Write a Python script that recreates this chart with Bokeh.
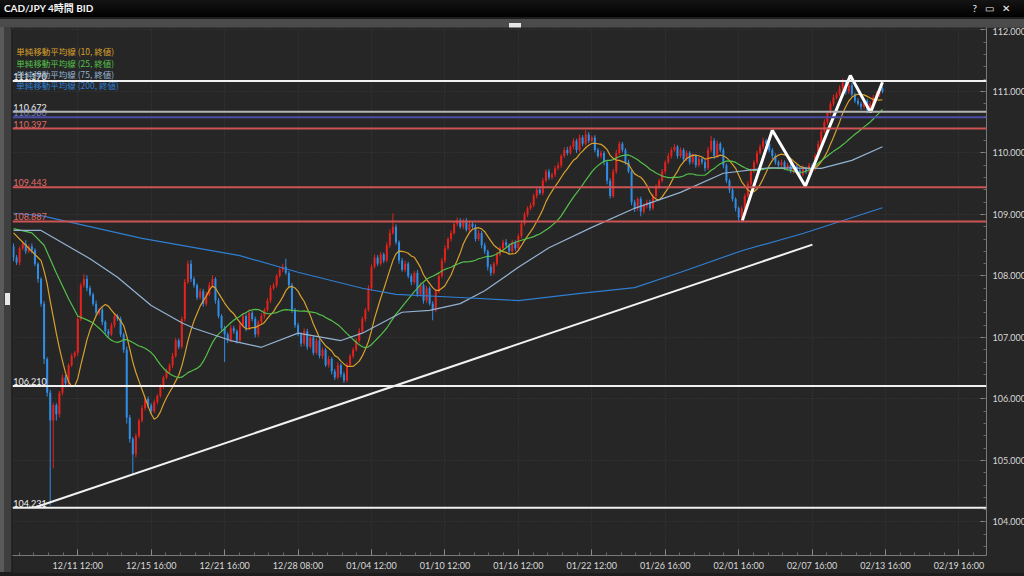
import numpy as np
import pandas as pd
from bokeh.plotting import figure
from bokeh.layouts import column, row
from bokeh.models import (Div, Span, FixedTicker, SingleIntervalTicker,
                          PrintfTickFormatter, GlobalInlineStyleSheet)
from bokeh.core.properties import value
from bokeh.embed import file_html
from bokeh.resources import INLINE

# ---------------- data ----------------
title_text = "CAD/JPY 4時間 BID"
first_open = 108.48

close = [
    108.30, 108.22, 108.45, 108.52, 108.40, 108.48, 108.42, 108.20, 107.95, 107.55,
    106.65, 106.10, 105.65, 105.90, 105.75, 106.10, 106.35, 106.25, 106.55, 106.70,
    106.75, 107.30, 107.85, 107.95, 107.80, 107.70, 107.55, 107.40, 107.45, 107.25,
    107.10, 107.05, 107.20, 107.35, 107.30, 107.05, 106.80, 105.70, 105.35, 105.10,
    105.40, 105.65, 105.85, 106.00, 105.90, 105.80, 105.95, 106.05, 106.20, 106.35,
    106.45, 106.55, 106.70, 106.95, 106.85, 107.30, 107.90, 108.20, 107.95, 107.85,
    107.65, 107.75, 107.55, 107.70, 107.85, 107.95, 107.60, 107.35, 107.15, 107.05,
    106.95, 107.15, 107.10, 106.95, 107.20, 107.35, 107.15, 107.40, 107.30, 107.05,
    107.25, 107.35, 107.45, 107.60, 107.80, 107.85, 108.00, 108.10, 108.15, 108.05,
    107.85, 107.45, 107.20, 107.05, 106.90, 107.10, 106.85, 107.00, 106.75, 106.95,
    106.70, 106.80, 106.55, 106.65, 106.45, 106.35, 106.55, 106.40, 106.30, 106.55,
    106.70, 106.80, 106.95, 107.10, 107.30, 107.45, 107.80, 108.15, 108.30, 108.20,
    108.35, 108.25, 108.50, 108.70, 108.80, 108.55, 108.25, 108.10, 108.20, 108.00,
    107.90, 108.05, 107.70, 107.85, 107.60, 107.80, 107.55, 107.45, 107.75, 108.00,
    108.25, 108.45, 108.60, 108.70, 108.85, 108.90, 108.80, 108.90, 108.75, 108.85,
    108.80, 108.60, 108.70, 108.50, 108.40, 108.15, 108.05, 108.20, 108.35, 108.45,
    108.55, 108.50, 108.40, 108.55, 108.45, 108.65, 108.85, 109.00, 109.10, 109.15,
    109.30, 109.40, 109.35, 109.55, 109.70, 109.60, 109.65, 109.75, 109.80, 109.95,
    110.05, 110.00, 110.10, 110.20, 110.05, 110.25, 110.15, 110.30, 110.20, 110.25,
    110.05, 109.95, 110.00, 109.85, 109.55, 109.30, 109.70, 110.00, 110.15, 110.05,
    109.85, 109.70, 109.20, 109.10, 109.25, 109.05, 109.15, 109.20, 109.10, 109.30,
    109.45, 109.55, 109.70, 109.85, 109.95, 110.05, 110.10, 109.95, 110.05, 109.90,
    110.00, 109.85, 109.95, 109.80, 109.90, 109.85, 109.75, 110.05, 110.20, 109.95,
    110.15, 110.05, 109.80, 109.55, 109.40, 109.25, 109.10, 108.95, 109.10, 109.30,
    109.50, 109.70, 109.85, 110.00, 110.10, 110.20, 110.15, 110.05, 109.95, 109.85,
    109.80, 109.85, 109.75, 109.80, 109.70, 109.78, 109.72, 109.65, 109.75, 109.70,
    109.80, 109.75, 109.95, 110.15, 110.35, 110.50, 110.65, 110.80, 110.90, 110.95,
    111.05, 111.15, 111.00, 111.10, 110.95, 110.85, 110.80, 110.75, 110.85, 110.70,
    110.80, 110.90, 110.95, 111.05, 111.00,
]

# wick lengths in 0.01 yen (above body / below body)
upper_wick = [
    5, 4, 3, 4, 6, 3, 5, 3, 2, 3,
    4, 3, 5, 4, 3, 3, 5, 4, 3, 4,
    3, 5, 4, 8, 6, 4, 3, 5, 3, 4,
    3, 4, 4, 5, 3, 4, 3, 5, 4, 3,
    4, 3, 5, 3, 4, 3, 4, 3, 4, 3,
    4, 3, 5, 4, 3, 4, 5, 5, 6, 4,
    3, 5, 4, 4, 5, 6, 3, 4, 3, 4,
    3, 5, 4, 3, 6, 5, 4, 6, 3, 4,
    3, 4, 3, 4, 5, 4, 3, 4, 5, 13,
    3, 4, 3, 4, 3, 5, 4, 5, 3, 4,
    3, 4, 3, 5, 3, 4, 5, 3, 4, 4,
    3, 4, 4, 5, 4, 3, 5, 4, 5, 4,
    4, 3, 5, 6, 22, 4, 3, 4, 5, 3,
    4, 3, 5, 4, 3, 4, 3, 4, 3, 4,
    4, 5, 3, 4, 4, 5, 4, 3, 4, 5,
    3, 4, 5, 3, 4, 3, 4, 3, 4, 3,
    4, 5, 3, 4, 3, 4, 5, 4, 3, 4,
    4, 3, 5, 4, 3, 4, 3, 4, 5, 3,
    4, 5, 3, 4, 3, 5, 4, 7, 4, 3,
    4, 3, 4, 3, 3, 4, 4, 5, 4, 3,
    3, 4, 3, 4, 3, 4, 3, 4, 4, 3,
    4, 3, 4, 3, 5, 4, 5, 3, 4, 3,
    4, 3, 4, 3, 4, 3, 4, 5, 8, 4,
    5, 3, 4, 3, 3, 4, 3, 3, 4, 4,
    4, 5, 3, 4, 4, 5, 3, 4, 3, 4,
    3, 4, 3, 4, 3, 4, 3, 4, 5, 3,
    4, 3, 4, 5, 4, 5, 3, 4, 5, 4,
    5, 6, 4, 5, 4, 3, 4, 3, 4, 3,
    4, 4, 5, 4, 3,
]
lower_wick = [
    6, 4, 5, 3, 4, 3, 5, 4, 6, 5,
    8, 6, 138, 78, 10, 5, 4, 6, 5, 3,
    4, 5, 3, 4, 5, 3, 4, 5, 4, 5,
    4, 5, 3, 4, 3, 4, 5, 10, 6, 32,
    5, 4, 3, 4, 5, 4, 3, 4, 3, 4,
    3, 4, 5, 3, 4, 3, 4, 3, 5, 4,
    4, 3, 5, 4, 3, 4, 5, 4, 5, 45,
    4, 3, 4, 5, 3, 4, 5, 3, 4, 5,
    4, 3, 4, 3, 4, 3, 4, 3, 4, 3,
    4, 5, 4, 3, 5, 4, 5, 3, 4, 3,
    4, 5, 3, 4, 5, 4, 3, 5, 4, 3,
    3, 4, 3, 4, 3, 4, 3, 4, 3, 4,
    3, 4, 3, 4, 3, 4, 5, 3, 4, 4,
    5, 3, 4, 3, 5, 4, 3, 17, 4, 3,
    3, 4, 3, 4, 3, 4, 3, 4, 3, 4,
    3, 4, 3, 5, 4, 6, 5, 3, 4, 3,
    4, 3, 4, 3, 4, 3, 4, 3, 4, 3,
    3, 4, 3, 4, 3, 4, 3, 4, 3, 4,
    3, 4, 3, 4, 5, 3, 4, 3, 4, 3,
    4, 3, 4, 5, 6, 4, 3, 4, 3, 4,
    4, 3, 5, 6, 4, 8, 4, 5, 4, 3,
    3, 4, 3, 4, 3, 4, 3, 4, 3, 4,
    3, 4, 3, 4, 3, 4, 5, 3, 4, 5,
    3, 4, 5, 4, 5, 4, 5, 7, 4, 3,
    3, 4, 3, 4, 3, 4, 3, 4, 5, 4,
    3, 4, 3, 4, 3, 4, 3, 4, 3, 4,
    4, 3, 4, 3, 4, 3, 4, 3, 4, 3,
    3, 4, 5, 4, 3, 4, 3, 5, 4, 6,
    3, 4, 3, 4, 3,
]

# moving averages: start of the 10/25 lines and the 75/200 lines (bar index, price)
ma10_head_idx = [0, 4, 8]
ma10_head = [108.70, 108.50, 108.30]
ma25_head_idx = [0, 6, 10, 14, 18, 21]
ma25_head = [108.77, 108.70, 108.50, 108.05, 107.63, 107.35]
ma75_idx = [0, 9, 25, 34, 45, 55, 59, 71, 81, 93, 107, 114, 127, 136, 146,
            154, 165, 175, 189, 203, 218, 232, 247, 264, 274, 284]
ma75 = [108.74, 108.74, 108.28, 107.98, 107.52, 107.24, 107.15, 106.95, 106.84,
        107.07, 106.95, 107.07, 107.41, 107.44, 107.55, 107.76, 108.14, 108.46,
        108.79, 109.10, 109.36, 109.67, 109.76, 109.75, 109.88, 110.10]
ma200_idx = [0, 9, 42, 74, 93, 114, 125, 146, 165, 186, 203, 218, 238, 258, 284]
ma200 = [109.02, 108.98, 108.61, 108.33, 108.06, 107.80, 107.70, 107.65, 107.60,
         107.72, 107.81, 108.06, 108.41, 108.69, 109.11]

legend_labels = ["単純移動平均線 (10, 終値)", "単純移動平均線 (25, 終値)",
                 "単純移動平均線 (75, 終値)", "単純移動平均線 (200, 終値)"]

level_values = [111.170, 110.672, 110.580, 110.397, 109.443, 108.887, 106.210, 104.231]
level_labels = ["111.170", "110.672", "110.580", "110.397", "109.443", "108.887", "106.210", "104.231"]

trend_x = [7.2, 261.1]
trend_y = [104.24, 108.51]
zigzag_x = [238.2, 248.0, 258.8, 273.5, 280.1, 284.0]
zigzag_y = [108.90, 110.37, 109.46, 111.26, 110.66, 111.15]

tick_idx = [21, 45, 69, 93, 117, 141, 165, 189, 213, 237, 261, 285, 309]
tick_labels = ["12/11 12:00", "12/15 16:00", "12/21 16:00", "12/28 08:00", "01/04 12:00",
               "01/10 12:00", "01/16 12:00", "01/22 12:00", "01/26 16:00", "02/01 16:00",
               "02/07 16:00", "02/13 16:00", "02/19 16:00"]

# ---------------- styles ----------------
BG = "#262626"
UP = "#e4221d"
DOWN = "#2f8de4"
MA_COLORS = ["#d9a02c", "#54c04a", "#93b3d2", "#2f7ed2"]
LEVEL_COLORS = ["#f0f0f0", "#b4b4b4", "#4c4ca6", "#cc5454", "#cc5454", "#cc5454", "#f0f0f0", "#f0f0f0"]
LEVEL_TEXT = ["#f0f0f0", "#f0f0f0", "#6f7fc0", "#e06a66", "#e06a66", "#e06a66", "#f0f0f0", "#f0f0f0"]
FONT = "Lato"
JP = "Noto Sans CJK JP"

# ---------------- derived ----------------
n = len(close)
idx = np.arange(n)
c = np.array(close)
o = np.concatenate([[first_open], c[:-1]])
hi = np.maximum(o, c) + np.array(upper_wick[:n]) / 100.0
lo = np.minimum(o, c) - np.array(lower_wick[:n]) / 100.0
up = c >= o

s = pd.Series(close)
r10 = s.rolling(10).mean()
r25 = s.rolling(25).mean()
ma10_x = ma10_head_idx + list(range(9, n))
ma10_y = ma10_head + list(r10.iloc[9:])
ma25_x = ma25_head_idx + list(range(24, n))
ma25_y = ma25_head + list(r25.iloc[24:])

p = figure(frame_width=974, frame_height=528,
           x_range=(-0.33, 318), y_range=(103.455, 112.04),
           y_axis_location="right", output_backend="svg", toolbar_location=None,
           background_fill_color=BG, border_fill_color=BG,
           min_border_left=0, min_border_top=0, min_border_right=38, min_border_bottom=17,
           title=None, margin=0)
p.outline_line_color = None

# axes
minor = [t + k * 4.8 for t in [-3.0] + tick_idx for k in range(1, 5)]
p.xaxis.ticker = FixedTicker(ticks=tick_idx, minor_ticks=minor)
p.xaxis.major_label_overrides = {t: l for t, l in zip(tick_idx, tick_labels)}
p.yaxis.ticker = SingleIntervalTicker(interval=1, num_minor_ticks=5)
p.yaxis.formatter = PrintfTickFormatter(format="%.3f")
for ax in (p.xaxis[0], p.yaxis[0]):
    ax.axis_line_color = "#7a7a7a"
    ax.major_tick_line_color = "#8a8a8a"
    ax.minor_tick_line_color = "#6a6a6a"
    ax.major_tick_in = 6
    ax.major_tick_out = 0
    ax.minor_tick_in = 3
    ax.minor_tick_out = 0
    ax.major_label_text_color = "#d8d8d8"
    ax.major_label_text_font = FONT
    ax.major_label_text_font_size = "9px"
p.xaxis.major_label_standoff = 4
p.yaxis.major_label_standoff = 6

p.xgrid.ticker = FixedTicker(ticks=tick_idx)
for g in (p.xgrid[0], p.ygrid[0]):
    g.grid_line_color = "#3b3b3b"
    g.grid_line_dash = "1 2"
    g.grid_line_width = 1

# candles
colors = np.where(up, UP, DOWN)
p.segment(x0=idx, y0=lo, x1=idx, y1=hi, line_color=list(colors), line_width=1)
p.vbar(x=idx, top=np.maximum(o, c), bottom=np.minimum(o, c), width=0.66,
       fill_color=list(colors), line_color=None)

# moving averages
p.line(ma10_x, ma10_y, line_color=MA_COLORS[0], line_width=1.2)
p.line(ma25_x, ma25_y, line_color=MA_COLORS[1], line_width=1.2)
p.line(ma75_idx, ma75, line_color=MA_COLORS[2], line_width=1.2)
p.line(ma200_idx, ma200, line_color=MA_COLORS[3], line_width=1.2)

# horizontal levels
for v, col in zip(level_values, LEVEL_COLORS):
    p.add_layout(Span(location=v, dimension="width", line_color=col, line_width=2))

# trend lines
p.line(trend_x, trend_y, line_color="#f2f2f2", line_width=2)
p.line(zigzag_x, zigzag_y, line_color="#ffffff", line_width=3)

# level labels
p.text(x=[-0.1] * len(level_values), y=level_values, text=level_labels,
       text_color=LEVEL_TEXT, text_font=value(FONT), text_font_size="9px",
       text_baseline="bottom", y_offset=-1)

# legend
p.text(x=[0.9] * 4, y=[111.65, 111.47, 111.29, 111.11], text=legend_labels,
       text_color=MA_COLORS, text_font=value(JP), text_font_size="8.5px",
       text_baseline="middle")

# window chrome: title bar, strip, left bar, bottom edge
title_div = Div(
    text=(f'<div style="width:1024px;height:17px;background:linear-gradient(#141414,#000);color:#f4f4f4;'
          f'font-family:Lato,\'Noto Sans CJK JP\';font-size:10px;font-weight:bold;line-height:16px;'
          f'display:flex;justify-content:space-between;">'
          f'<span style="padding-left:4px">{title_text}</span>'
          f'<span style="padding-right:6px;letter-spacing:8px;font-weight:normal">?▭✕</span></div>'),
    width=1024, height=17, margin=0)
strip_div = Div(
    text=('<div style="width:1024px;height:10px;background:#4b4b4b;position:relative;">'
          '<div style="position:absolute;left:509px;top:4px;width:12px;height:5px;background:#e6e6e6;"></div></div>'),
    width=1024, height=10, margin=0)
left_div = Div(
    text=('<div style="width:12px;height:545px;position:relative;'
          'background:linear-gradient(to right,#5a5a5a 0px,#5a5a5a 4px,#3e3e3e 4px,#3e3e3e 11px,#262626 11px);">'
          '<div style="position:absolute;left:5px;top:266px;width:5px;height:12px;background:#e8e8e8;"></div></div>'),
    width=12, height=545, margin=0)
bottom_div = Div(
    text='<div style="width:1024px;height:4px;background:#6c6c6c;"></div>',
    width=1024, height=4, margin=0)

layout = column(title_div, strip_div, row(left_div, p, spacing=0), bottom_div, spacing=0)
layout.stylesheets = [GlobalInlineStyleSheet(css="html, body { background: #1d1d1d; margin: 0; }")]

open("out.html", "w").write(file_html(layout, INLINE))
